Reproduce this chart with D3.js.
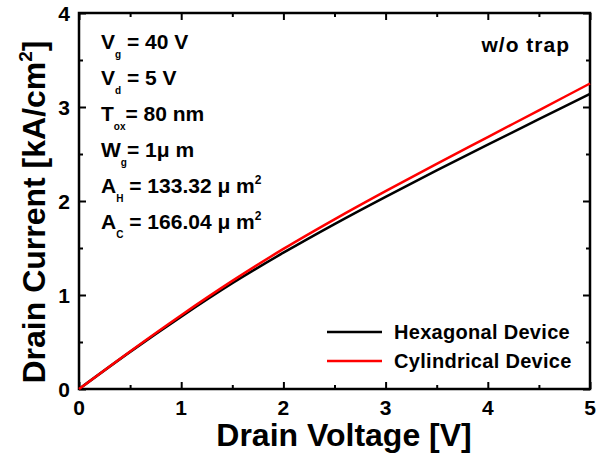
<!DOCTYPE html>
<html>
  <head>
    <meta charset="utf-8">
    <title>Drain current vs drain voltage</title>
    <script src="https://d3js.org/d3.v7.min.js"></script>
    <style>
      body { margin: 0; background: #fff; }
      text { font-family: "Liberation Sans", Arial, sans-serif; font-weight: bold; fill: #000; }
      .frame { fill: none; stroke: #000; stroke-width: 2.5; }
      .tick line { stroke: #000; stroke-width: 2; }
    </style>
  </head>
  <body>
    <div id="chart"></div>
    <script>

      // values
      var voltage = [0, 0.5, 1, 1.5, 2, 2.5, 3, 3.5, 4, 4.5, 5];
      var hexCurrent = [0, 0.395, 0.77, 1.125, 1.45, 1.755, 2.045, 2.325, 2.60, 2.87, 3.14];
      var cylCurrent = [0, 0.40, 0.785, 1.15, 1.49, 1.805, 2.105, 2.395, 2.68, 2.965, 3.25];
      var seriesNames = ["Hexagonal Device", "Cylindrical Device"];
      var seriesColors = ["#000000", "#ff0000"];
      var xTicks = [0, 1, 2, 3, 4, 5];
      var yTicks = [0, 1, 2, 3, 4];

      var width = 597,
        height = 457,
        margin = {top: 13, right: 7, bottom: 68, left: 79};

      var svg = d3.select("#chart")
        .append("svg")
          .attr("width", width)
          .attr("height", height);

      var x = d3.scaleLinear().domain([0, 5]).range([margin.left, width - margin.right]);
      var y = d3.scaleLinear().domain([0, 4]).range([height - margin.bottom, margin.top]);

      var minorX = d3.range(0.5, 5, 1);
      var minorY = d3.range(0.5, 4, 1);

      // ticks point inside the box on all four sides
      function drawTicks(axisFn, scale, vals, len, transform) {
        var g = svg.append("g")
          .attr("transform", transform)
          .call(axisFn(scale).tickValues(vals).tickSizeInner(len).tickSizeOuter(0).tickFormat(""));
        g.select(".domain").remove();
        return g;
      }

      var bottom = height - margin.bottom, right = width - margin.right;

      drawTicks(d3.axisTop, x, xTicks, 7, "translate(0," + bottom + ")");
      drawTicks(d3.axisTop, x, minorX, 4, "translate(0," + bottom + ")");
      drawTicks(d3.axisBottom, x, xTicks, 7, "translate(0," + margin.top + ")");
      drawTicks(d3.axisBottom, x, minorX, 4, "translate(0," + margin.top + ")");
      drawTicks(d3.axisRight, y, yTicks, 7, "translate(" + margin.left + ",0)");
      drawTicks(d3.axisRight, y, minorY, 4, "translate(" + margin.left + ",0)");
      drawTicks(d3.axisLeft, y, yTicks, 7, "translate(" + right + ",0)");
      drawTicks(d3.axisLeft, y, minorY, 4, "translate(" + right + ",0)");

      // tick labels
      svg.append("g").selectAll("text")
        .data(xTicks)
        .enter().append("text")
          .attr("x", (d) => x(d))
          .attr("y", bottom + 26)
          .attr("text-anchor", "middle")
          .style("font-size", "21px")
          .text((d) => d);

      svg.append("g").selectAll("text")
        .data(yTicks)
        .enter().append("text")
          .attr("x", margin.left - 9)
          .attr("y", (d) => y(d))
          .attr("dy", "0.36em")
          .attr("text-anchor", "end")
          .style("font-size", "21px")
          .text((d) => d);

      svg.append("rect")
        .attr("class", "frame")
        .attr("x", margin.left)
        .attr("y", margin.top)
        .attr("width", right - margin.left)
        .attr("height", bottom - margin.top);

      // curves
      var line = d3.line()
        .x((d) => x(d[0]))
        .y((d) => y(d[1]))
        .curve(d3.curveMonotoneX);

      [hexCurrent, cylCurrent].forEach(function(vals, i) {
        svg.append("path")
          .datum(voltage.map((v, j) => [v, vals[j]]))
          .attr("d", line)
          .attr("fill", "none")
          .attr("stroke", seriesColors[i])
          .attr("stroke-width", 2.5);
      });

      // axis titles
      svg.append("text")
        .attr("x", 344)
        .attr("y", 446)
        .attr("text-anchor", "middle")
        .style("font-size", "32px")
        .text("Drain Voltage [V]");

      var yt = svg.append("text")
        .attr("transform", "translate(45,212) rotate(-90)")
        .attr("text-anchor", "middle")
        .style("font-size", "32px");
      yt.append("tspan").text("Drain Current [kA/cm");
      yt.append("tspan").attr("dy", -13).style("font-size", "19px").text("2");
      yt.append("tspan").attr("dy", 13).text("]");

      // parameter annotations
      var notes = [
        {main: "V", sub: "g", rest: " = 40 V", sup: ""},
        {main: "V", sub: "d", rest: " = 5 V", sup: ""},
        {main: "T", sub: "ox", rest: "= 80 nm", sup: ""},
        {main: "W", sub: "g", rest: "= 1\u03bc m", sup: ""},
        {main: "A", sub: "H", rest: " = 133.32 \u03bc m", sup: "2"},
        {main: "A", sub: "C", rest: " = 166.04 \u03bc m", sup: "2"}
      ];

      var ng = svg.append("g");
      notes.forEach(function(n, i) {
        var t = ng.append("text")
          .attr("x", 101)
          .attr("y", 49 + i * 36)
          .style("font-size", "21px");
        t.append("tspan").text(n.main);
        t.append("tspan").attr("dy", 9).style("font-size", "10px").text(n.sub);
        t.append("tspan").attr("dy", -9).text(n.rest);
        if (n.sup) t.append("tspan").attr("dy", -9).style("font-size", "12px").text(n.sup);
      });

      svg.append("text")
        .attr("x", 570)
        .attr("y", 52)
        .attr("text-anchor", "end")
        .style("font-size", "21px")
        .style("letter-spacing", "1px")
        .text("w/o trap");

      // legend
      var legend = svg.append("g");
      seriesNames.forEach(function(name, i) {
        var ly = 332 + i * 29;
        legend.append("line")
          .attr("x1", 327).attr("x2", 382)
          .attr("y1", ly).attr("y2", ly)
          .attr("stroke", seriesColors[i])
          .attr("stroke-width", 2.5);
        legend.append("text")
          .attr("x", 394)
          .attr("y", ly)
          .attr("dy", "0.36em")
          .style("font-size", "20px")
          .style("letter-spacing", "0.3px")
          .text(name);
      });

    </script>
  </body>
</html>
